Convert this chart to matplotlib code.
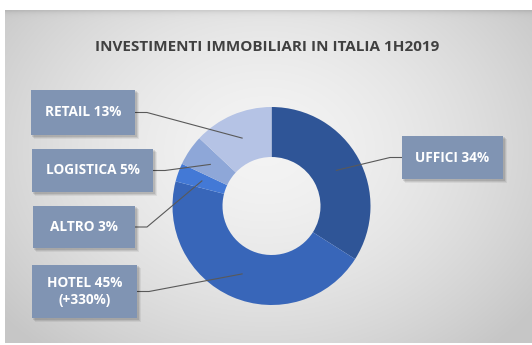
import numpy as np
import matplotlib
matplotlib.use("Agg")
import matplotlib.pyplot as plt
from matplotlib.patches import Rectangle

title = "INVESTIMENTI IMMOBILIARI IN ITALIA 1H2019"
sectors = ["UFFICI", "HOTEL", "ALTRO", "LOGISTICA", "RETAIL"]
shares = [34, 45, 3, 5, 13]
notes = ["", "(+330%)", "", "", ""]
colors = ["#2F5597", "#3866B9", "#4379D6", "#8EA7D8", "#B5C3E5"]

W, H = 532, 345
FONT = "Open Sans"


def py(y):
    # pixel row (top-down) -> data y (bottom-up)
    return H - y


fig = plt.figure(figsize=(W / 100, H / 100), dpi=100)
ax = fig.add_axes([0, 0, 1, 1])

# grey panel with soft radial shading
px0, px1, ptop, pbot = 5, 532, 10, 343
xs = np.linspace(px0, px1, 300)
ys = np.linspace(ptop, pbot, 200)
gx, gy = np.meshgrid(xs, ys)
d = np.sqrt(((gx - 265) / 330) ** 2 + ((gy - 150) / 260) ** 2)
shade = np.clip(0.955 - 0.17 * d ** 1.6, 0.78, 0.955)
top_edge = np.exp(-(gy - ptop) / 2.5) * 0.08
shade = shade - top_edge
img = np.dstack([shade, shade, shade])
ax.imshow(img, extent=(px0, px1, py(pbot), py(ptop)), origin="upper",
          interpolation="bilinear", zorder=0)

ax.text(267, py(47), title, ha="center", va="center", fontsize=11,
        fontweight="bold", color="#404040", family=FONT)

# donut
cx, cy, r_out, r_in = 271.5, py(206), 99, 49
wedges, _ = ax.pie(shares, colors=colors, startangle=90, counterclock=False,
                   center=(cx, cy), radius=r_out, frame=True,
                   wedgeprops=dict(width=r_out - r_in, edgecolor="none"))
ax.set_xlim(0, W)
ax.set_ylim(0, H)
ax.set_aspect("equal")
ax.axis("off")

# label boxes: (left, top, right, bottom) in pixels, side of leader
boxes = [
    (402, 136, 503, 179, "right"),
    (32, 265, 137, 318, "left"),
    (33, 206, 135, 248, "left"),
    (32, 149, 153, 192, "left"),
    (31, 90, 135, 135, "left"),
]

r_mid = (r_out + r_in) / 2
cum = np.cumsum([0] + shares)
total = float(sum(shares))
for i, (name, val) in enumerate(zip(sectors, shares)):
    l, t, rr, b, side = boxes[i]
    # soft shadow
    for k, a in enumerate([0.10, 0.08, 0.06]):
        off = 2 + k
        ax.add_patch(Rectangle((l + off - 1, py(b) - off), rr - l + 1, b - t + 1,
                               facecolor="#000000", alpha=a, edgecolor="none", zorder=3))
    ax.add_patch(Rectangle((l, py(b)), rr - l, b - t, facecolor="#8094B3",
                           edgecolor="none", zorder=4))
    txt = f"{name} {val}%"
    if notes[i]:
        txt += "\n" + notes[i]
    ax.text((l + rr) / 2, py((t + b) / 2), txt, ha="center", va="center",
            fontsize=9.8, fontweight="bold", color="white", family=FONT,
            linespacing=1.2, zorder=5)

    # leader line to the middle of the ring segment
    mid = (cum[i] + val / 2) / total * 2 * np.pi
    ax_ = cx + r_mid * np.sin(mid)
    ay_ = cy + r_mid * np.cos(mid)
    ym = py((t + b) / 2)
    if side == "left":
        xs_ = [rr, rr + 12, ax_]
    else:
        xs_ = [l, l - 12, ax_]
    ax.plot(xs_, [ym, ym, ay_], color="#595959", lw=0.8, zorder=2.5)

fig.savefig("out.png", dpi=100)
